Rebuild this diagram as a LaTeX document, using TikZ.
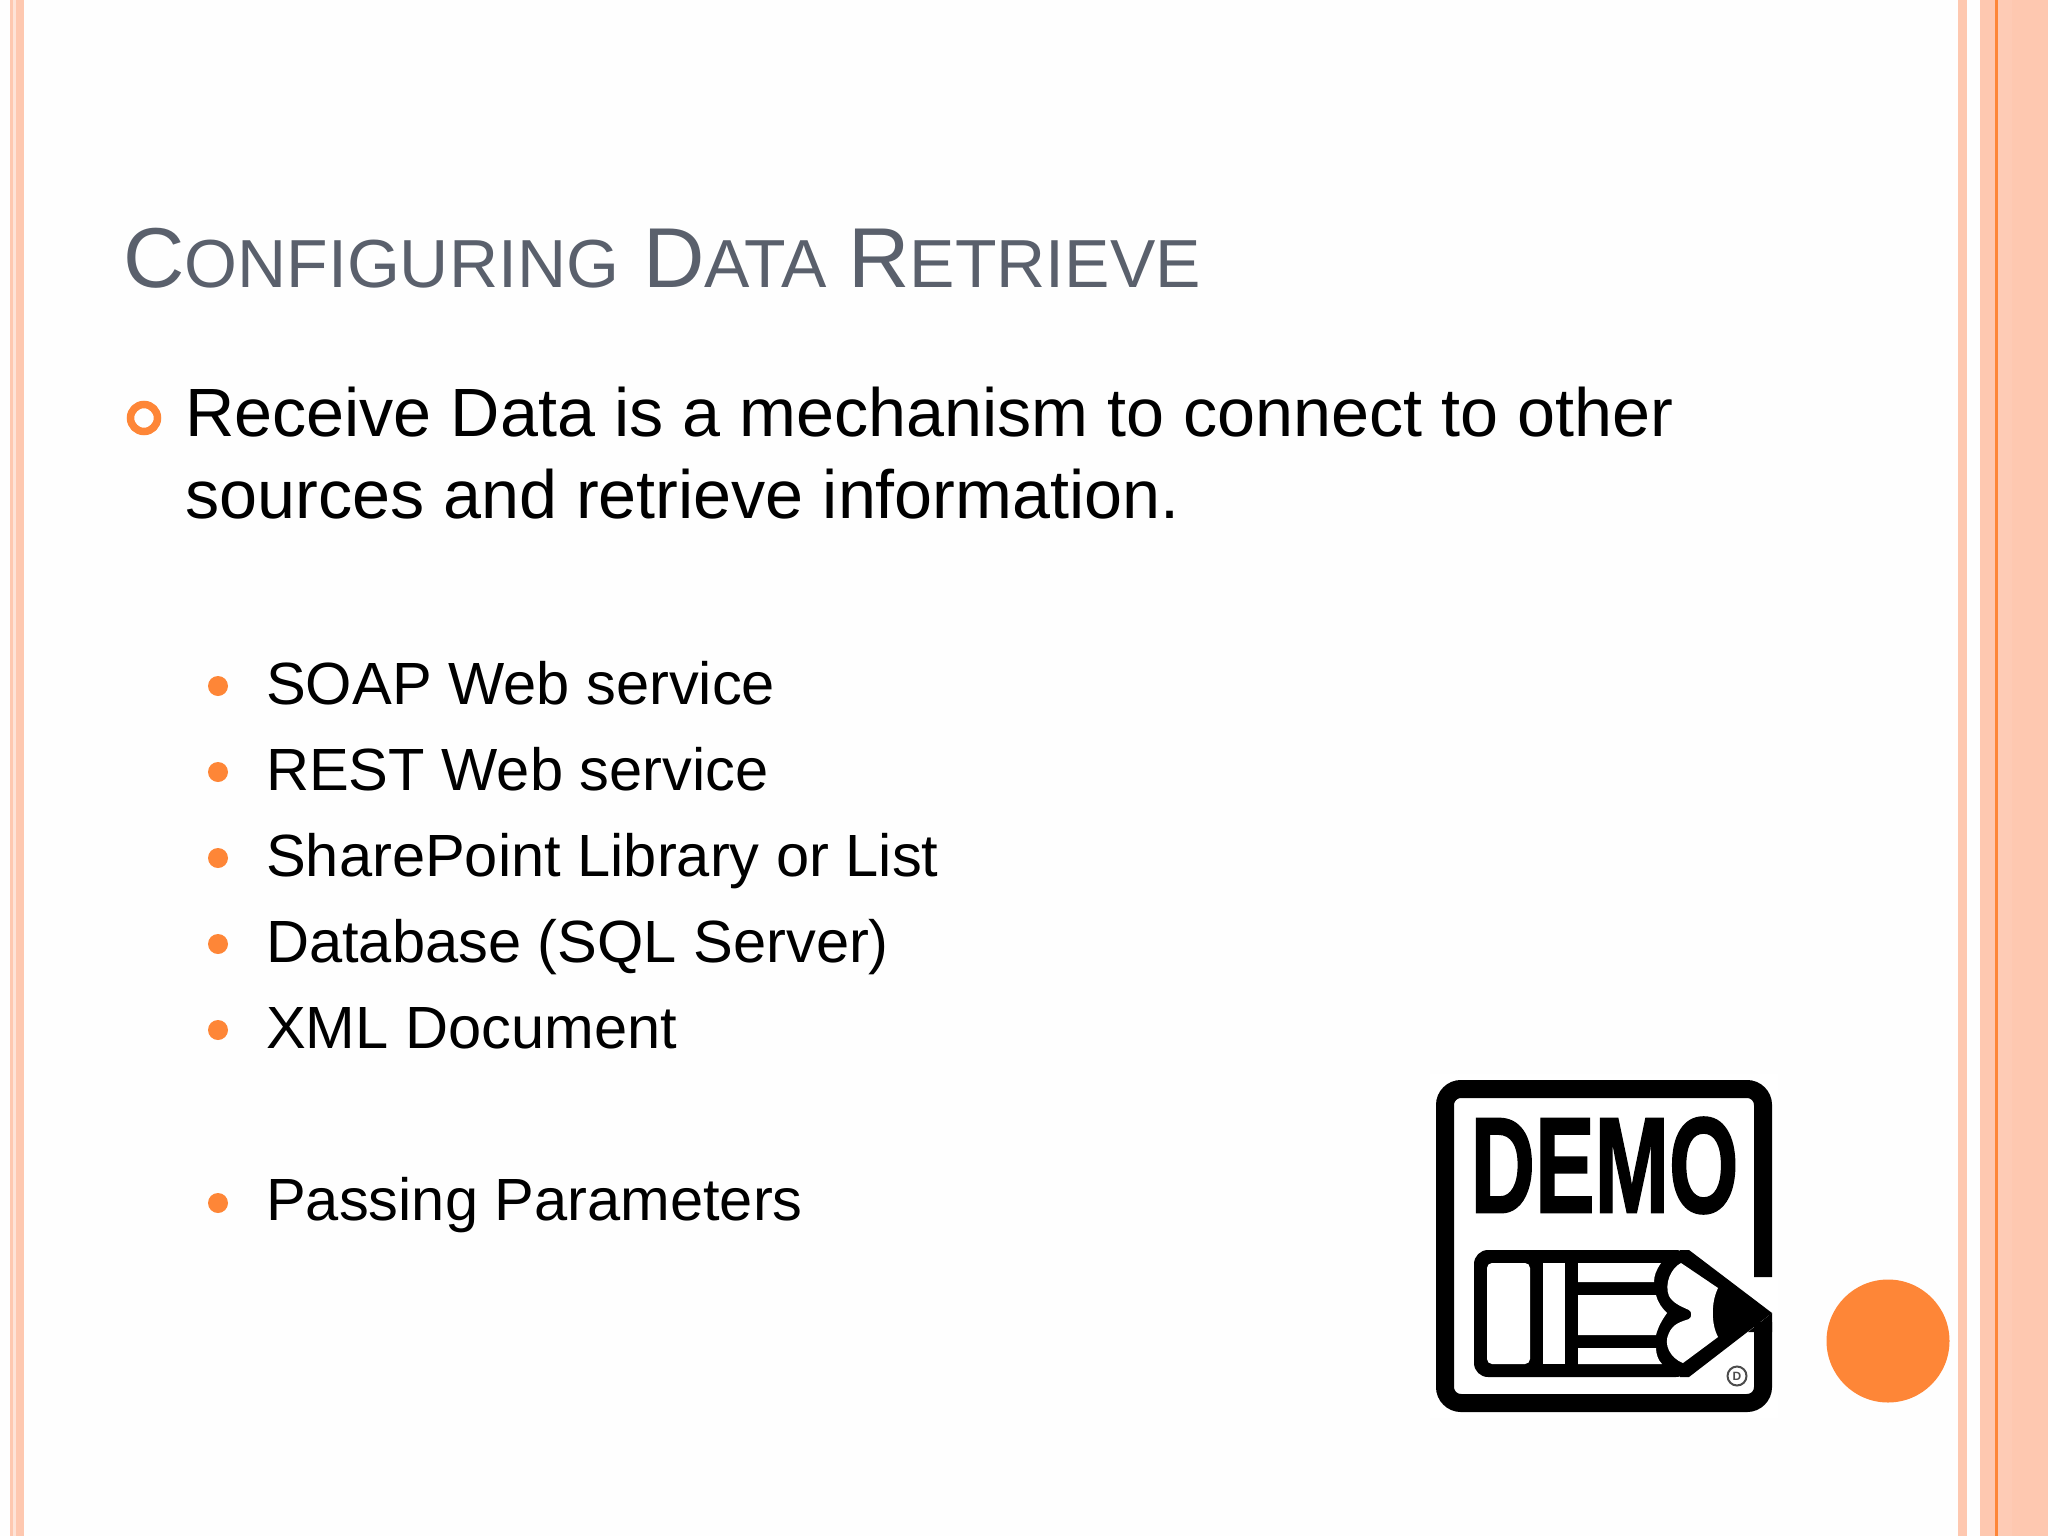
\documentclass[tikz,border=0pt]{standalone}
\usepackage{fontspec}
\setmainfont{Liberation Sans}
\newfontfamily\demofont[FakeBold=1.6]{Liberation Sans Bold}
\definecolor{pagebg}{HTML}{FEFEFE}
\definecolor{salmon}{HTML}{FEC8B0}
\definecolor{salmonlt}{HTML}{FECBB5}
\definecolor{accent}{HTML}{FE8637}
\definecolor{titlegray}{HTML}{5A606C}
\newcommand{\titlecaps}[2]{{\fontsize{85}{100}\selectfont #1}{\fontsize{68}{100}\selectfont #2}}
\tikzset{
  x=1pt,y=-1pt,
  stripe/.style={fill=salmon,draw=none},
  bodytext/.style={anchor=base west,inner sep=0pt,text=black,font=\fontsize{68.3}{80}\selectfont},
  subtext/.style={anchor=base west,inner sep=0pt,text=black,font=\fontsize{59.6}{70}\selectfont},
  subdot/.style={circle,fill=accent,draw=none,minimum size=20pt,inner sep=0pt},
  ink/.style={fill=black,draw=none},
  paper/.style={fill=white,draw=none}
}
\begin{document}
\begin{tikzpicture}
\useasboundingbox (0,0) rectangle (2048,1536);
\fill[pagebg] (0,0) rectangle (2048,1536);
% left stripes
\fill[stripe] (10,0) rectangle (13,1536);
\fill[salmon!50!white] (13,0) rectangle (16,1536);
\fill[stripe] (16,0) rectangle (24,1536);
% right stripes
\fill[stripe] (1958,0) rectangle (1967,1536);
\fill[stripe] (1980,0) rectangle (1995,1536);
\fill[accent] (1995,0) rectangle (1998,1536);
\fill[salmonlt] (1998,0) rectangle (2048,1536);
\fill[salmon] (2012,0) rectangle (2048,1536);
% title
\node[anchor=base west,inner sep=0pt,text=titlegray] (title) at (123,287)
  {\titlecaps{C}{ONFIGURING}\hspace{24pt}\titlecaps{D}{ATA}\hspace{22pt}\titlecaps{R}{ETRIEVE}};
% main bullet
\node[circle,draw=accent,line width=7.5pt,fill=none,minimum size=27pt,inner sep=0pt] (ring) at (144,418) {};
\node[bodytext] (b1) at (185,436) {Receive Data is a mechanism to connect to other};
\node[bodytext] (b2) at (185,518) {sources and retrieve information.};
% sub bullets
\node[subdot] (d1) at (218,686) {};
\node[subdot] (d2) at (218,772) {};
\node[subdot] (d3) at (218,858) {};
\node[subdot] (d4) at (218,944) {};
\node[subdot] (d5) at (218,1030) {};
\node[subdot] (d6) at (218,1203) {};
\node[subtext] (s1) at (266,704) {SOAP Web service};
\node[subtext] (s2) at (266,790) {REST Web service};
\node[subtext] (s3) at (266,876) {SharePoint Library or List};
\node[subtext] (s4) at (266,962) {Database (SQL Server)};
\node[subtext] (s5) at (266,1048) {XML Document};
\node[subtext] (s6) at (266,1220) {Passing Parameters};
% orange circle
\node[circle,fill=accent,draw=none,minimum size=123pt,inner sep=0pt] (disc) at (1888,1341) {};
% demo icon: frame
\fill[white] (1430,1074) rectangle (1778,1418);
\draw[black,line width=18pt,rounded corners=16pt]
  (1763,1277) -- (1763,1089) -- (1445,1089) -- (1445,1403) -- (1763,1403) -- (1763,1322);
\fill[black] (1772,1313) -- (1772,1332) -- (1748,1332) -- cycle;
% demo word
\node[inner sep=0pt] (demo) at (1604.5,1165.5)
  {\resizebox{268pt}{95pt}{\demofont DEMO}};
% pencil
\fill[black,rounded corners=14pt] (1690,1250) -- (1474,1250) -- (1474,1377) -- (1690,1377) -- cycle;
\fill[black] (1680,1250) -- (1689,1250) -- (1772,1313) -- (1689,1377) -- (1680,1377) -- cycle;
\fill[paper,rounded corners=5pt] (1487,1263) rectangle (1530,1364);
\fill[paper] (1543,1263) rectangle (1565,1364);
\fill[paper] (1578,1263) -- (1661,1263) .. controls (1656,1270) and (1654,1276) .. (1654,1282) -- (1578,1282) -- cycle;
\fill[paper] (1578,1295) -- (1656,1295) .. controls (1658,1303) and (1662,1308) .. (1667,1313)
  .. controls (1662,1320) and (1658,1327) .. (1656,1335) -- (1578,1335) -- cycle;
\fill[paper] (1578,1348) -- (1656,1348) .. controls (1656,1354) and (1658,1360) .. (1662,1364) -- (1578,1364) -- cycle;
\fill[paper] (1681,1263) -- (1718,1288)
  .. controls (1711,1302) and (1711,1324) .. (1718,1337)
  -- (1683,1363)
  .. controls (1670,1358) and (1663,1344) .. (1669,1333)
  .. controls (1673,1324) and (1680,1322) .. (1689,1319)
  .. controls (1692,1317) and (1692,1312) .. (1689,1310)
  .. controls (1680,1306) and (1673,1303) .. (1669,1296)
  .. controls (1664,1284) and (1671,1268) .. (1681,1263) -- cycle;
% registered mark
\node[circle,draw=black!70,line width=2pt,minimum size=19pt,inner sep=0pt,font=\fontsize{12}{12}\bfseries,text=black!70] (reg) at (1737,1376) {D};
\end{tikzpicture}
\end{document}
